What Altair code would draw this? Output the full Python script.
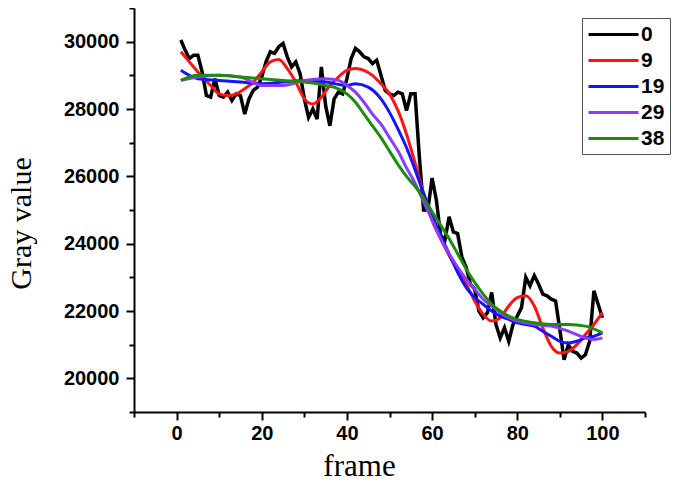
import altair as alt
import pandas as pd

# ---- data ----
frames_raw = list(range(1, 101))
gray_0 = [30050, 29750, 29500, 29600, 29600, 29100, 28400, 28350, 28900, 28400,
          28350, 28500, 28250, 28450, 28400, 27850, 28300, 28550, 28650, 28950,
          29400, 29700, 29650, 29850, 29950, 29550, 29250, 29400, 29050, 28300,
          27750, 28000, 27700, 29250, 28100, 27500, 28300, 28500, 28450, 28900,
          29500, 29800, 29700, 29550, 29500, 29350, 29450, 29000, 28550, 28450,
          28400, 28500, 28450, 27950, 28450, 28450, 26600, 25000, 25000, 25950,
          25300, 24250, 24100, 24800, 24350, 24300, 23600, 23300, 22800, 22650,
          22000, 21800, 21950, 22550, 21600, 21200, 21500, 21100, 21600, 21850,
          22100, 23000, 22750, 23050, 22800, 22500, 22450, 22350, 22300, 21450,
          20550, 21000, 20800, 20750, 20600, 20700, 21100, 22600, 22200, 21800]

frames_9 = [1, 3, 5, 8, 10, 12, 14, 16, 18, 20, 22, 24, 26, 28, 30, 32, 34, 36, 38, 40,
            42, 44, 46, 48, 50, 52, 54, 56, 58, 60, 62, 64, 66, 68, 70, 72, 74, 76, 78, 80,
            82, 84, 86, 88, 90, 92, 94, 96, 98, 100]
gray_9 = [29700, 29400, 29100, 28700, 28450, 28400, 28450, 28600, 28800, 29100,
          29400, 29470, 29200, 28800, 28300, 28150, 28350, 28700, 28950, 29150,
          29200, 29150, 29000, 28750, 28450, 27950, 27250, 26400, 25500, 24700,
          24150, 23650, 23250, 22800, 22300, 21900, 21700, 21800, 22150, 22400,
          22450, 22150, 21500, 20950, 20750, 20800, 21000, 21300, 21600, 21950]

frames_19 = [1, 3, 5, 10, 15, 20, 25, 30, 35, 40, 42, 45, 48, 50, 52, 54, 56, 58, 60, 62,
             64, 66, 68, 70, 72, 74, 76, 78, 80, 82, 84, 86, 88, 90, 92, 94, 96, 98, 100]
gray_19 = [29150, 29000, 28900, 28850, 28800, 28750, 28800, 28850, 28800, 28700,
           28750, 28650, 28300, 27900, 27400, 26850, 26200, 25500, 24850, 24250,
           23700, 23150, 22700, 22400, 22200, 22000, 21850, 21750, 21650, 21600,
           21550, 21400, 21250, 21100, 21050, 21100, 21200, 21250, 21350]

frames_29 = [1, 5, 10, 15, 20, 25, 30, 35, 38, 40, 42, 44, 46, 48, 50, 52, 54, 56, 58, 60,
             62, 64, 66, 68, 70, 72, 74, 76, 78, 80, 84, 88, 92, 96, 98, 100]
gray_29 = [28850, 28950, 29000, 28950, 28700, 28700, 28850, 28900, 28850, 28700,
           28500, 28200, 27850, 27550, 27150, 26750, 26250, 25800, 25250, 24700,
           24150, 23700, 23300, 22950, 22650, 22350, 22150, 21950, 21800, 21700,
           21600, 21550, 21400, 21200, 21150, 21200]

frames_38 = [1, 5, 10, 15, 20, 25, 30, 35, 38, 40, 42, 44, 46, 48, 50, 52, 54, 56, 58, 60,
             62, 64, 66, 68, 70, 72, 74, 76, 78, 80, 84, 88, 92, 96, 100]
gray_38 = [28850, 29000, 29000, 28950, 28900, 28850, 28800, 28700, 28600, 28450,
           28200, 27850, 27500, 27150, 26750, 26350, 26000, 25700, 25350, 24950,
           24550, 24150, 23700, 23250, 22850, 22500, 22200, 22000, 21850, 21750,
           21650, 21600, 21600, 21550, 21350]

series_names = ["0", "9", "19", "29", "38"]
series_colors = ["#000000", "#ff1414", "#1414ff", "#8a3cff", "#1e8c0a"]

rows = []
for name, fr, vals in zip(series_names,
                          [frames_raw, frames_9, frames_19, frames_29, frames_38],
                          [gray_0, gray_9, gray_19, gray_29, gray_38]):
    for f, v in zip(fr, vals):
        rows.append({"series": name, "frame": f, "gray": v})
df = pd.DataFrame(rows)

x_minor = list(range(-10, 111, 10))
y_minor = list(range(19000, 31001, 1000))

x_axis = alt.Axis(
    values=x_minor,
    labelExpr="(datum.value % 20 == 0 && datum.value >= 0 && datum.value <= 100) ? datum.label : ''",
    tickSize={"condition": {"test": "datum.value % 20 == 0", "value": 8}, "value": 5},
    labelFont="Liberation Sans", labelFontWeight="bold", labelFontSize=20,
    labelColor="#000", labelPadding=3,
    domainColor="#000", domainWidth=2, tickColor="#000", tickWidth=2,
    grid=False, title="frame", titleFont="Liberation Serif", titleFontSize=31,
    titleFontWeight="normal", titleColor="#000",
    titleX=225, titleY=63, titleBaseline="alphabetic", titleAnchor="middle",
    labelFlush=False, labelOverlap=False,
)
y_axis = alt.Axis(
    values=y_minor,
    labelExpr="(datum.value % 2000 == 0 && datum.value >= 20000 && datum.value <= 30000) ? datum.label : ''",
    format="d",
    tickSize={"condition": {"test": "datum.value % 2000 == 0", "value": 8}, "value": 5},
    labelFont="Liberation Sans", labelFontWeight="bold", labelFontSize=20,
    labelColor="#000", labelPadding=7,
    domainColor="#000", domainWidth=2, tickColor="#000", tickWidth=2,
    grid=False, title="Gray value", titleFont="Liberation Serif", titleFontSize=30,
    titleFontWeight="normal", titleColor="#000",
    titleX=-104, titleY=215, titleBaseline="alphabetic", titleAngle=-90,
    titleAnchor="middle",
    labelFlush=False, labelOverlap=False,
)

color = alt.Color(
    "series:N",
    sort=series_names,
    scale=alt.Scale(domain=series_names, range=series_colors),
    legend=alt.Legend(
        title=None, orient="none", legendX=448, legendY=10,
        symbolType="M-2.5,0L2.5,0", symbolSize=400, symbolStrokeWidth=3,
        symbolOffset=15, labelOffset=16,
        labelFont="Liberation Sans", labelFontWeight="bold", labelFontSize=21,
        labelColor="#000",
        strokeColor="#555555", padding=5, rowPadding=4,
    ),
)
xenc = alt.X("frame:Q", scale=alt.Scale(domain=[-10, 110], nice=False, zero=False), axis=x_axis)
yenc = alt.Y("gray:Q", scale=alt.Scale(domain=[19000, 31000], nice=False, zero=False), axis=y_axis)

base = alt.Chart(df)
raw = base.transform_filter("datum.series == '0'").mark_line(strokeWidth=3.5).encode(
    x=xenc, y=yenc, color=color, order=alt.Order("frame:Q"))
smooth = base.transform_filter("datum.series != '0'").mark_line(
    strokeWidth=3, interpolate="monotone").encode(
    x=xenc, y=yenc, color=color, order=alt.Order("frame:Q"))

chart = alt.layer(raw, smooth).properties(
    width=511, height=404,
    autosize=alt.AutoSizeParams(type="none"),
    padding={"left": 126, "top": 0, "right": 35, "bottom": 74},
).configure_view(stroke=None)

chart.save("out.html", embed_options={"renderer": "svg", "actions": False})
